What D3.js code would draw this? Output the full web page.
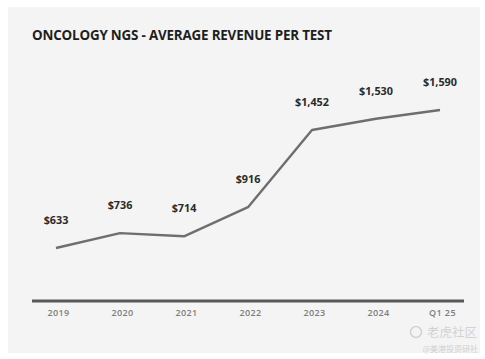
<!DOCTYPE html>
<html><head><meta charset="utf-8">
<script src="https://cdn.jsdelivr.net/npm/d3@7"></script>
<style>body{margin:0;background:#fff}svg{display:block}</style>
</head><body>
<svg id="c" width="485" height="359"></svg>
<script>
const categories = ["2019","2020","2021","2022","2023","2024","Q1 25"];
const revenue = [633, 736, 714, 916, 1452, 1530, 1590];
const valueLabels = ["$633","$736","$714","$916","$1,452","$1,530","$1,590"];
const title = "ONCOLOGY NGS - AVERAGE REVENUE PER TEST";

const svg = d3.select("#c");
svg.append("rect").attr("x",8).attr("y",7).attr("width",472).attr("height",346).attr("fill","#f4f4f4");

svg.append("text").attr("x",32).attr("y",40).text(title)
  .attr("font-family","Open Sans, sans-serif").attr("font-weight",700)
  .attr("font-size",13.4).attr("fill","#1e1e1e").attr("textLength",300);

const x = d3.scalePoint().domain(categories).range([56, 440]);
const y = d3.scaleLinear().domain([0, 1800]).range([339.2, 79.8]);

const xAxis = svg.append("g").attr("transform","translate(0,301)")
  .call(d3.axisBottom(x).tickSize(0).tickPadding(9));
xAxis.select(".domain").remove();
xAxis.selectAll("text").attr("font-family","Open Sans, sans-serif").attr("font-size",9)
  .attr("font-weight",600).attr("fill","#7d7d7d").attr("letter-spacing","0.4px")
  .attr("dx","2");
svg.append("line").attr("x1",32).attr("x2",464).attr("y1",301).attr("y2",301)
  .attr("stroke","#585858").attr("stroke-width",3);

const pts = categories.map((c,i)=>({c, v:revenue[i], l:valueLabels[i]}));
svg.append("path").datum(pts)
  .attr("d", d3.line().x(d=>x(d.c)).y(d=>y(d.v)))
  .attr("fill","none").attr("stroke","#6e6e6e").attr("stroke-width",2.4)
  .attr("stroke-linejoin","round");

svg.selectAll("text.vl").data(pts).enter().append("text").attr("class","vl")
  .attr("x",d=>x(d.c)).attr("y",d=>y(d.v)-24)
  .attr("text-anchor","middle").text(d=>d.l)
  .attr("font-family","Open Sans, sans-serif").attr("font-weight",700)
  .attr("font-size",10.8).attr("fill","#2a2a2a");

// watermark
svg.append("text").attr("x",477).attr("y",337).attr("text-anchor","end").text("老虎社区")
  .attr("font-family","Noto Sans CJK SC").attr("font-size",12.5).attr("fill","#d2d2d2");
svg.append("circle").attr("cx",416).attr("cy",332).attr("r",5.5).attr("fill","none").attr("stroke","#d2d2d2").attr("stroke-width",1.5);
svg.append("text").attr("x",478).attr("y",352).attr("text-anchor","end").text("@美港投资研社")
  .attr("font-family","Noto Sans CJK SC").attr("font-size",8).attr("fill","#d0d0d0");
</script>
</body></html>
